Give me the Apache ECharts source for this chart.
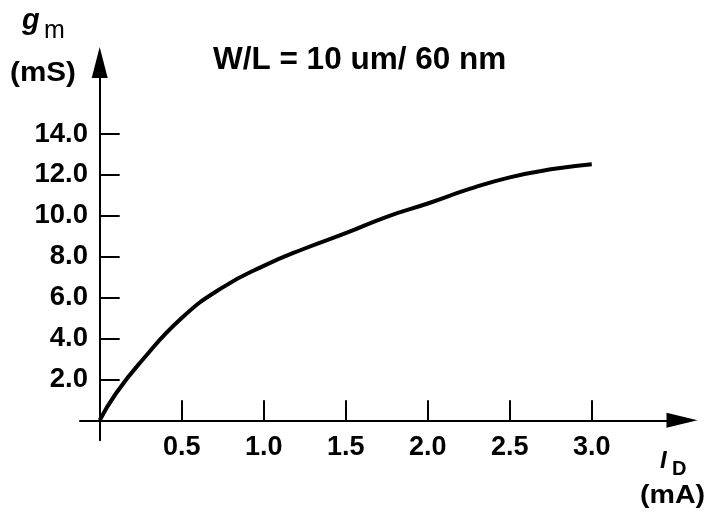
<!DOCTYPE html>
<html><head><meta charset="utf-8">
<script src="https://cdn.jsdelivr.net/npm/echarts@6/dist/echarts.min.js"></script>
<style>html,body{margin:0;padding:0;background:#fff}#c{width:719px;height:519px}</style>
</head><body><div id="c"></div>
<script>
// Data
const idValues = [0, 0.1, 0.25, 0.5, 0.75, 1.0, 1.25, 1.5, 1.75, 2.0, 2.25, 2.5, 2.75, 3.0];
const gmValues = [0, 1.32, 2.85, 5.0, 6.5, 7.55, 8.4, 9.15, 9.95, 10.6, 11.3, 11.88, 12.27, 12.52];
const xTickValues = [0.5, 1.0, 1.5, 2.0, 2.5, 3.0];
const yTickValues = [2, 4, 6, 8, 10, 12, 14];
const titleText = 'W/L = 10 um/ 60 nm';
const yNameMain = 'g';
const yNameSub = 'm';
const yUnit = '(mS)';
const xNameMain = 'I';
const xNameSub = 'D';
const xUnit = '(mA)';

const FONT = '"Liberation Sans", Arial, Helvetica, sans-serif';
const chart = echarts.init(document.getElementById('c'), null, {renderer: 'canvas'});

function txt(x, y, text, opts, sx) {
  return {
    type: 'text', x: x, y: y, silent: true, scaleX: sx || 1,
    style: Object.assign({
      text: text, fill: '#000', fontFamily: FONT,
      textAlign: 'left', align: 'left',
      textVerticalAlign: 'middle', verticalAlign: 'middle'
    }, opts)
  };
}

const option = {
  animation: false,
  backgroundColor: '#fff',
  title: {
    text: titleText, left: 213, top: 44.5, padding: 0,
    textStyle: {fontFamily: FONT, fontWeight: 'bold', fontSize: 31.5, color: '#000'}
  },
  grid: {left: 80, width: 602, top: 62.4, height: 377.9, containLabel: false, outerBoundsMode: 'none'},
  xAxis: {
    type: 'value', min: -0.12, max: 3.55,
    axisLine: {onZero: true, lineStyle: {color: '#000', width: 2}, symbol: ['none', 'triangle'], symbolSize: [15, 31]},
    axisTick: {show: true, inside: true, length: 20, customValues: xTickValues, lineStyle: {color: '#000', width: 2}},
    axisLabel: {customValues: xTickValues, formatter: v => v.toFixed(1), margin: -6, fontSize: 27, fontWeight: 'bold', fontFamily: FONT, color: '#000'},
    splitLine: {show: false}
  },
  yAxis: {
    type: 'value', min: -0.98, max: 17.5,
    axisLine: {onZero: true, lineStyle: {color: '#000', width: 2}, symbol: ['none', 'triangle'], symbolSize: [16, 31]},
    axisTick: {show: true, inside: true, length: 20, customValues: yTickValues, lineStyle: {color: '#000', width: 2}},
    axisLabel: {customValues: yTickValues, formatter: v => v.toFixed(1), margin: -8, fontSize: 27.5, fontWeight: 'bold', fontFamily: FONT, color: '#000'},
    splitLine: {show: false}
  },
  series: [{
    type: 'line',
    data: idValues.map((x, i) => [x, gmValues[i]]),
    showSymbol: false, smooth: 0.5,
    lineStyle: {color: '#000', width: 4}
  }],
  graphic: [
    txt(22, 21, yNameMain, {fontSize: 29, fontWeight: 'bold', fontStyle: 'italic'}),
    txt(44, 31, yNameSub, {fontSize: 25}),
    txt(10, 74, yUnit, {fontSize: 27, fontWeight: 'bold'}, 1.1),
    txt(660, 461, xNameMain, {fontSize: 24, fontWeight: 'bold', fontStyle: 'italic'}),
    txt(672, 469, xNameSub, {fontSize: 20, fontWeight: 'bold'}),
    txt(640, 496, xUnit, {fontSize: 26, fontWeight: 'bold'}, 1.1)
  ]
};
chart.setOption(option);
</script>
</body></html>
